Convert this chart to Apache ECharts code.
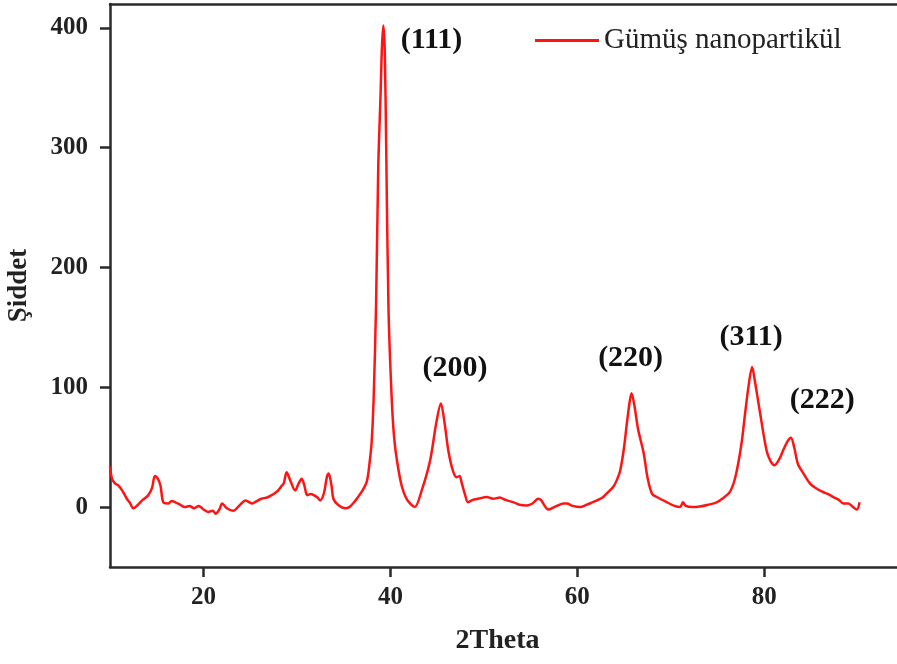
<!DOCTYPE html>
<html>
<head>
<meta charset="utf-8">
<script src="https://cdn.jsdelivr.net/npm/echarts@6/dist/echarts.min.js"></script>
<style>
html,body{margin:0;padding:0;background:#fff;}
#chart{width:897px;height:664px;}
</style>
</head>
<body>
<div id="chart"></div>
<script>
// 2Theta (degrees)
const twoTheta = [
  10.0, 10.2, 10.5, 10.9, 11.3, 11.8, 12.1, 12.5, 13.0, 13.5, 14.1, 14.5, 14.8, 15.1, 15.4, 15.7,
  16.2, 16.6, 17.0, 17.5, 18.0, 18.5, 19.0, 19.5, 20.0, 20.5, 21.0, 21.3, 21.7, 22.0, 22.5, 23.2,
  23.8, 24.5, 25.2, 25.7, 26.2, 26.8, 27.3, 27.7, 28.0, 28.4, 28.6, 28.9, 29.3, 29.8, 30.2, 30.5,
  30.8, 31.1, 31.5, 31.8, 32.2, 32.5, 32.9, 33.2, 33.4, 33.7, 33.9, 34.4, 35.2, 35.6, 36.0, 36.5,
  37.1, 37.5, 37.8, 38.0, 38.2, 38.47, 38.7, 38.95, 39.1, 39.25, 39.4, 39.55, 39.8, 40.15, 40.4, 40.7,
  41.2, 41.8, 42.6, 43.35, 44.25, 44.9, 45.4, 45.8, 46.2, 46.7, 47.1, 47.4, 47.6, 48.0, 48.3, 48.8,
  49.4, 50.3, 51.0, 51.7, 52.3, 53.2, 53.8, 54.6, 55.2, 55.8, 56.1, 56.9, 57.8, 58.5, 58.9, 59.5,
  60.3, 61.0, 61.6, 62.1, 62.7, 63.1, 63.85, 64.3, 64.6, 65.0, 65.3, 65.6, 65.8, 66.1, 66.5, 67.1,
  67.5, 68.0, 68.6, 69.6, 70.4, 71.0, 71.3, 71.6, 72.3, 73.1, 74.0, 74.9, 75.5, 76.3, 76.8, 77.2,
  77.6, 77.9, 78.3, 78.7, 79.0, 79.5, 80.25, 80.7, 81.1, 81.6, 82.0, 82.5, 82.85, 83.2, 83.6, 84.2,
  84.9, 85.5, 86.3, 86.8, 87.4, 88.0, 88.45, 89.0, 89.5, 89.9, 90.2
];
// Intensity (Şiddet)
const intensity = [
  34, 24, 20, 18, 14, 7, 4, -1, 2, 6, 10, 16, 26, 24, 18, 4,
  3, 5, 4, 2, 0, 1, -1, 1, -2, -4, -3, -5.5, -2, 3, -1, -3,
  1, 5.6, 3, 5, 7, 8, 10, 12, 14, 18, 20, 29, 22, 14, 20, 23.7,
  18, 10, 11, 10, 8, 5.6, 12, 25, 28, 18, 7, 2, -1, 0, 3, 8,
  15, 22, 39, 55, 89, 170, 284, 345, 385, 402, 380, 300, 164, 89, 58, 39,
  18, 6, 0, 14, 39, 70, 86.5, 70, 47, 30, 25, 26, 21, 10, 4, 6,
  7, 8.4, 7, 8, 6, 4, 2, 1.4, 3, 7, 6, -2, 1, 3, 3, 1,
  0, 2, 4, 5.6, 8, 11, 17, 24, 31, 50, 70, 88, 95, 85, 65, 45,
  25, 11, 8, 4, 1, 0, 4, 1, 0, 0.5, 2, 4, 7, 12.5, 22, 36,
  55, 75, 100, 117, 105, 81, 47, 38, 35, 40, 47, 55, 58, 50, 36, 28,
  19.6, 16, 12.5, 11, 8.4, 6, 3, 3, 0, -2, 4
];
const xTicks = [20, 40, 60, 80];
const yTicks = [0, 100, 200, 300, 400];
// Peak labels: Miller indices placed at [2Theta, intensity]
const peakLabels = ['(111)', '(200)', '(220)', '(311)', '(222)'];
const peakLabelX = [44.4, 46.9, 65.7, 78.6, 86.2];
const peakLabelY = [390, 116, 124, 142, 89];

const seriesName = 'Gümüş nanopartikül';
const FONT = "'Liberation Serif', 'Times New Roman', serif";
const AXIS_COLOR = '#2a2a2a';
const LINE_COLOR = '#ff1414';

const chart = echarts.init(document.getElementById('chart'), null, {renderer: 'canvas'});
const lineData = twoTheta.map((x, i) => [x, intensity[i]]);
const markData = peakLabels.map((t, i) => ({name: t, coord: [peakLabelX[i], peakLabelY[i]]}));

chart.setOption({
  animation: false,
  backgroundColor: '#fff',
  grid: {left: 110, top: 4, right: 0, bottom: 97, show: false, outerBoundsMode: 'none', containLabel: false},
  legend: {
    show: true,
    left: 530, top: 21,
    itemWidth: 64, itemHeight: 3, itemGap: 10,
    data: [{name: seriesName, icon: 'rect'}],
    textStyle: {fontFamily: FONT, fontSize: 29, color: '#222'}
  },
  xAxis: [{
    type: 'value', min: 10, max: 94.2,
    name: '2Theta', nameLocation: 'middle', nameGap: 60,
    nameTextStyle: {fontFamily: FONT, fontSize: 28, fontWeight: 'bold', color: '#222', padding: [0, 12, 0, 0]},
    axisLine: {show: true, onZero: false, lineStyle: {color: AXIS_COLOR, width: 2.5}},
    axisTick: {show: true, inside: false, length: 10, customValues: xTicks, lineStyle: {color: AXIS_COLOR, width: 2.5}},
    axisLabel: {show: true, customValues: xTicks, margin: 18, fontFamily: FONT, fontSize: 25, fontWeight: 'bold', color: '#222'},
    splitLine: {show: false}
  }, {
    type: 'value', position: 'top', min: 10, max: 94.2,
    axisLine: {show: true, onZero: false, lineStyle: {color: AXIS_COLOR, width: 2.5}},
    axisTick: {show: false}, axisLabel: {show: false}, splitLine: {show: false}
  }],
  yAxis: {
    type: 'value', min: -50, max: 420,
    name: 'Şiddet', nameLocation: 'middle', nameGap: 77, nameRotate: 90,
    nameTextStyle: {fontFamily: FONT, fontSize: 27, fontWeight: 'bold', color: '#222'},
    axisLine: {show: true, onZero: false, lineStyle: {color: AXIS_COLOR, width: 2.5}},
    axisTick: {show: true, inside: false, length: 10, customValues: yTicks, lineStyle: {color: AXIS_COLOR, width: 2.5}},
    axisLabel: {show: true, customValues: yTicks, margin: 22, fontFamily: FONT, fontSize: 25, fontWeight: 'bold', color: '#222'},
    splitLine: {show: false}
  },
  series: [{
    name: seriesName,
    type: 'line',
    xAxisIndex: 0,
    data: lineData,
    symbol: 'none',
    showSymbol: false,
    smooth: 0.3,
    lineStyle: {color: LINE_COLOR, width: 2.5},
    itemStyle: {color: LINE_COLOR},
    markPoint: {
      symbol: 'circle', symbolSize: 0,
      label: {show: true, position: 'inside', formatter: p => p.name,
        fontFamily: FONT, fontSize: 30, fontWeight: 'bold', color: '#111'},
      data: markData
    }
  }]
});
</script>
</body>
</html>
